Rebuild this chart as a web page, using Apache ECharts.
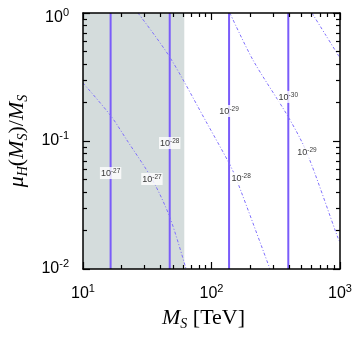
<!DOCTYPE html>
<html>
<head>
<meta charset="utf-8">
<script src="https://cdn.jsdelivr.net/npm/echarts@6/dist/echarts.min.js"></script>
<style>
  html, body { margin: 0; padding: 0; background: #fff; }
  #chart { width: 354px; height: 339px; }
</style>
</head>
<body>
<div id="chart"></div>
<script>
/* ---------- data ---------- */
const xLines = [16.4, 47.3, 137, 396]
const shadeRange = [10, 61.4]
const curveA = [[10, 0.284], [16.4, 0.158], [21.9, 0.102], [34.4, 0.0505], [47.3, 0.0255], [63.4, 0.01]]
const curveB = [[26.8, 1], [47.3, 0.453], [94, 0.133], [136.8, 0.0673], [155, 0.0514], [285, 0.01]]
const curveC = [[139, 1], [210, 0.43], [396, 0.154], [553, 0.0806], [964, 0.0175], [1000, 0.0162]]
const curveD = [[605, 1], [778, 0.667], [1000, 0.445]]
const curves = [curveA, curveB, curveC, curveD]
// [x, y, exponent]
const lineLabels = [
  [16.4, 0.0562, -27], [34.4, 0.0505, -27],
  [47.3, 0.0965, -28], [170, 0.0514, -28],
  [137, 0.1715, -29], [553, 0.082, -29],
  [396, 0.221, -30]
]
const xRange = [10, 1000]
const yRange = [0.01, 1]

/* ---------- style ---------- */
const lineColor = '#7a5cfa'
const curveColor = '#7f6ffc'
const shadeColor = '#d4dcdc'
const sans = 'Liberation Sans, Arial, sans-serif'
const serif = 'Liberation Serif, Times New Roman, serif'

const chart = echarts.init(document.getElementById('chart'))

const rect = { left: 83, top: 13, right: 14, bottom: 70, outerBoundsMode: 'none' }

const labelRich = {
  b: { fontSize: 16, fontFamily: sans, color: '#000', lineHeight: 22 },
  s: { fontSize: 11, fontFamily: sans, color: '#000', lineHeight: 12, verticalAlign: 'top' },
  pad: { fontSize: 4, lineHeight: 10 }
}

function expLabel(v) {
  const e = Math.round(Math.log10(v))
  // top label sits a little lower in the original
  if (e === 0) return '{pad| }\n{b|10}{s|0}'
  return '{b|10}{s|' + e + '}'
}

const titleRich = {
  i: { fontSize: 22, fontFamily: serif, fontStyle: 'italic', color: '#000', lineHeight: 26 },
  r: { fontSize: 22, fontFamily: serif, color: '#000', lineHeight: 26 },
  sub: { fontSize: 14, fontFamily: serif, fontStyle: 'italic', color: '#000', lineHeight: 14, verticalAlign: 'bottom' }
}

/** log axis: frame line + inside major/minor ticks, drawn above the shading */
function tickAxis(gridIndex, position, range) {
  return {
    type: 'log',
    logBase: 10,
    gridIndex,
    position,
    z: 20,
    min: range[0],
    max: range[1],
    axisLine: { show: true, onZero: false, lineStyle: { color: '#000', width: 1.5 } },
    axisTick: { show: true, inside: true, length: 7, lineStyle: { color: '#000', width: 1.2 } },
    minorTick: { show: true, splitNumber: 9, length: 4, lineStyle: { color: '#000', width: 1.2 } },
    axisLabel: { show: false },
    splitLine: { show: false },
    minorSplitLine: { show: false }
  }
}

/** log axis carrying data, labels and title (ticks drawn by tickAxis) */
function dataAxis(position, range) {
  return {
    type: 'log',
    logBase: 10,
    gridIndex: 0,
    position,
    min: range[0],
    max: range[1],
    axisLine: { show: false, onZero: false },
    axisTick: { show: false },
    axisLabel: { margin: 14, formatter: expLabel, rich: labelRich },
    splitLine: { show: false },
    nameLocation: 'middle'
  }
}

const xAxes = [
  {
    ...dataAxis('bottom', xRange),
    name: '{i|M}{sub|S}{r| [TeV]}',
    nameGap: 34,
    nameTextStyle: { rich: titleRich, padding: [0, 16, 0, 0] }
  },
  tickAxis(1, 'top', xRange),
  tickAxis(2, 'bottom', xRange)
]

const yAxes = [
  {
    ...dataAxis('left', yRange),
    name: '{i|μ}{sub|H}{r|(}{i|M}{sub|S}{r|)/}{i|M}{sub|S}',
    nameGap: 48,
    nameTextStyle: { rich: titleRich }
  },
  tickAxis(1, 'right', yRange),
  tickAxis(2, 'left', yRange)
]

const series = []

// shaded region
series.push({
  type: 'line',
  xAxisIndex: 0,
  yAxisIndex: 0,
  data: [],
  z: 1,
  silent: true,
  markArea: {
    silent: true,
    itemStyle: { color: shadeColor },
    data: [[{ xAxis: shadeRange[0] }, { xAxis: shadeRange[1] }]]
  }
})

// vertical lines
xLines.forEach((x) => {
  series.push({
    type: 'line',
    xAxisIndex: 0,
    yAxisIndex: 0,
    data: [[x, yRange[0]], [x, yRange[1]]],
    symbol: 'none',
    silent: true,
    z: 3,
    lineStyle: { color: lineColor, width: 2 }
  })
})

// dash-dot contours
curves.forEach((c) => {
  series.push({
    type: 'line',
    xAxisIndex: 0,
    yAxisIndex: 0,
    data: c,
    smooth: 0.3,
    symbol: 'none',
    silent: true,
    z: 4,
    lineStyle: { color: curveColor, width: 1, type: [3, 2, 1, 2] }
  })
})

// contour labels
series.push({
  type: 'scatter',
  xAxisIndex: 0,
  yAxisIndex: 0,
  data: lineLabels,
  symbolSize: 1,
  itemStyle: { color: 'rgba(0,0,0,0)' },
  silent: true,
  z: 10,
  label: {
    show: true,
    position: 'inside',
    backgroundColor: '#fff',
    padding: [1, 1, 0, 1],
    formatter: (p) => '{b|10}{s|' + p.data[2] + '}',
    rich: {
      b: { fontSize: 9, fontFamily: sans, color: '#000', lineHeight: 11 },
      s: { fontSize: 6.5, fontFamily: sans, color: '#000', lineHeight: 7, verticalAlign: 'top' }
    }
  }
})

chart.setOption({
  animation: false,
  backgroundColor: '#fff',
  grid: [{ ...rect }, { ...rect }, { ...rect }],
  xAxis: xAxes,
  yAxis: yAxes,
  series
})
</script>
</body>
</html>
